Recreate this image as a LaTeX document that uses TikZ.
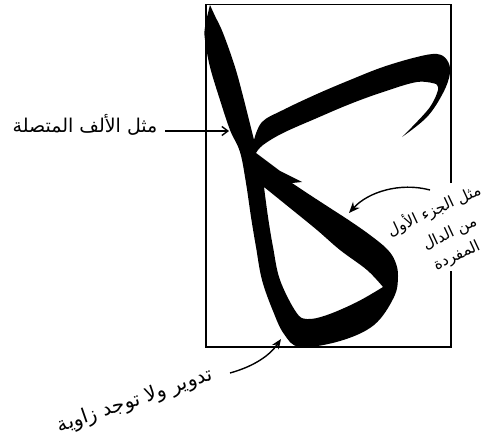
\documentclass[tikz,border=0pt]{standalone}
\usepackage{fontspec}
\newfontfamily\arabicfont[Script=Arabic]{DejaVu Sans}
\TeXXeTstate=1
\usetikzlibrary{arrows.meta}
\tikzset{
  frame/.style={line width=1.3pt, black},
  ink/.style={fill=black, even odd rule},
  lbl/.style={font=\arabicfont\fontsize{19}{22}\selectfont, inner sep=0.5pt},
  lblr/.style={font=\arabicfont\fontsize{15.5}{18}\selectfont, inner sep=0pt, rotate=25},
  pointer/.style={line width=1.4pt, black},
}
\begin{document}
\begin{tikzpicture}[x=1pt,y=-1pt]
\useasboundingbox (0,0) rectangle (486,441);
% frame with gap on right side where the label crosses it
\coordinate (f1) at (451,183);
\coordinate (f2) at (451,4.5);
\coordinate (f3) at (206,4.5);
\coordinate (f4) at (206,347);
\coordinate (f5) at (451,347);
\coordinate (f6) at (451,271);
\draw[frame] (f1) -- (f2) -- (f3) -- (f4) -- (f5) -- (f6);
% the letter kaf
\fill[ink]
  plot[smooth, tension=0.6] coordinates {(210,5) (215,16) (223,33) (235,67) (244,100) (251,128) (254,140)}
  -- plot[smooth, tension=0.6] coordinates {(254,140) (262,122) (283,110) (317,94) (350,80) (383,67) (417,57) (437,54) (447,60) (450,73) (443,93) (427,117) (402,137)}
  -- plot[smooth, tension=0.6] coordinates {(402,137) (412,127) (430,107) (438,90) (436,84)}
  -- plot[smooth, tension=0.6] coordinates {(436,84) (417,82) (383,92) (350,104) (317,118) (283,133) (263,145) (256,153)}
  -- (280,171) -- (302,182) -- (292,183)
  -- plot[smooth, tension=0.6] coordinates {(292,183) (310,195) (330,208) (350,221) (370,235) (387,249) (395,261) (398,276) (394,297) (374,325) (340,341) (300,347) (284,334) (273,311) (262,280) (256,247) (251,217) (246,183) (240,152) (230,130) (220,100) (210,67) (205,40) (205,27) (210,5)}
  -- cycle
  plot[smooth, tension=0.6] coordinates {(264,187) (290,208) (317,230) (340,250) (367,270) (383,287)}
  -- plot[smooth, tension=0.6] coordinates {(383,287) (357,302) (327,315) (307,319) (296,312) (280,280) (273,247) (268,217) (264,187)}
  -- cycle;
% labels
\node[lblr] (t2a) at (434,210) {\beginR مثل الجزء الأول\endR};
\node[lblr] (t2b) at (450,234) {\beginR من الدال\endR};
\node[lblr] (t2c) at (457,256) {\beginR المفردة\endR};
\node[lbl] (t1) at (85,125) {\beginR مثل الألف المتصلة\endR};
\node[lbl, rotate=19, font=\arabicfont\fontsize{20}{22}\selectfont] (t3) at (135,401) {\beginR تدوير ولا توجد زاوية\endR};
% pointers
\coordinate (a1s) at (165,131);
\coordinate (a1e) at (229,131);
\draw[pointer, -{Straight Barb[length=6pt, width=9pt]}] (a1s) -- (a1e);
\coordinate (a2s) at (430,190);
\coordinate (a2e) at (349,213);
\draw[pointer, -{Stealth[length=11pt, width=9pt]}] (a2s) .. controls (400,182) and (368,192) .. (a2e);
\coordinate (a3s) at (230,373);
\coordinate (a3e) at (281,339);
\draw[pointer, -{Stealth[length=10pt, width=8pt]}] (a3s) .. controls (255,366) and (270,355) .. (a3e);
\end{tikzpicture}
\end{document}
